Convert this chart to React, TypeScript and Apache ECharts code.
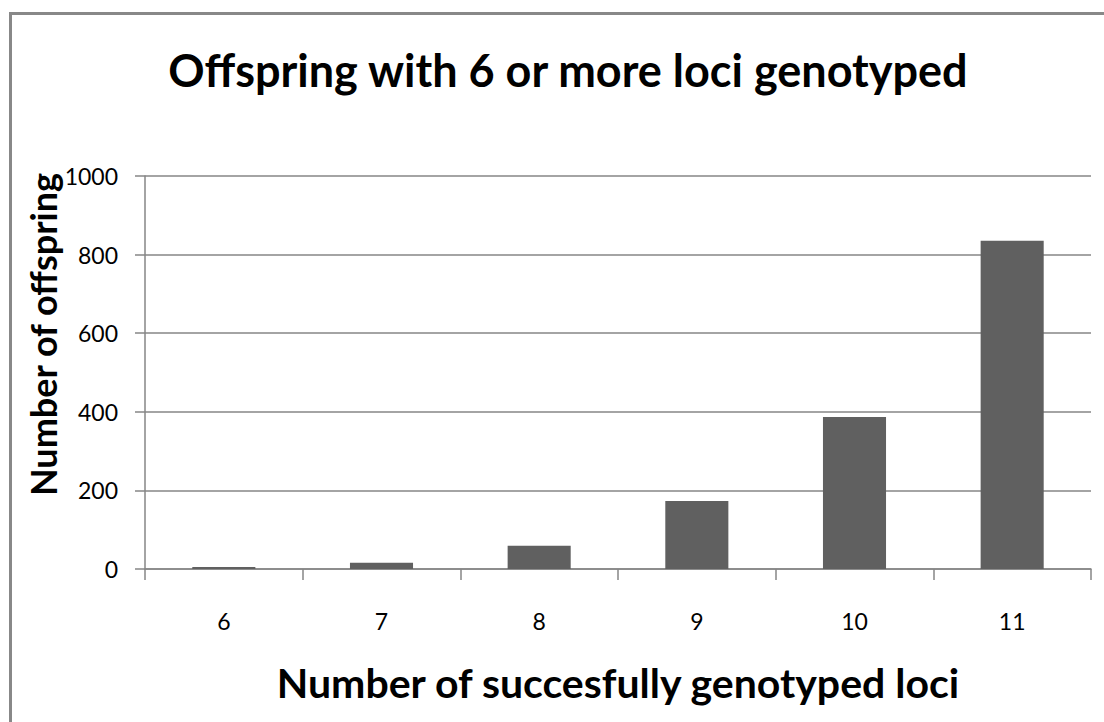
import React, { useEffect, useRef } from "react";
import * as echarts from "echarts";

const categories = ["6", "7", "8", "9", "10", "11"];
const offspringCounts = [5, 16, 59, 173, 387, 835];
const yTicks = { min: 0, max: 1000, interval: 200 };

const FONT = "Lato, 'Open Sans', sans-serif";

export default function App() {
  const ref = useRef<HTMLDivElement>(null);
  useEffect(() => {
    document.body.style.margin = "0";
    const chart = echarts.init(ref.current!, null, { renderer: "svg" });
    chart.setOption({
      animation: false,
      backgroundColor: "#ffffff",
      title: {
        text: "Offspring with 6 or more loci genotyped",
        left: 563,
        top: 42,
        textAlign: "center",
        textStyle: { fontFamily: FONT, fontSize: 45, fontWeight: "bold", color: "#000" },
      },
      graphic: [
        {
          type: "rect",
          shape: { x: 10.5, y: 13.5, width: 1200, height: 800 },
          style: { fill: "none", stroke: "#888888", lineWidth: 3 },
          silent: true,
        },
      ],
      grid: { left: 145, right: 13, top: 176, bottom: 153, containLabel: false },
      xAxis: {
        type: "category",
        data: categories,
        name: "Number of succesfully genotyped loci",
        nameLocation: "middle",
        nameGap: 93,
        nameMoveOverlap: false,
        nameTextStyle: { fontFamily: FONT, fontSize: 41, fontWeight: "bold", color: "#000" },
        axisLine: { lineStyle: { color: "#868686", width: 1.5 } },
        axisTick: { show: true, length: 11, alignWithLabel: false, lineStyle: { color: "#868686", width: 1.5 } },
        axisLabel: { margin: 40, fontFamily: FONT, fontSize: 23, color: "#000" },
      },
      yAxis: {
        type: "value",
        min: yTicks.min,
        max: yTicks.max,
        interval: yTicks.interval,
        name: "Number of offspring",
        nameLocation: "middle",
        nameGap: 84,
        nameRotate: 90,
        nameMoveOverlap: false,
        nameTextStyle: {
          fontFamily: FONT,
          fontSize: 36,
          fontWeight: "bold",
          color: "#000",
          padding: [0, 0, 0, 76],
        },
        axisLine: { show: true, lineStyle: { color: "#868686", width: 1.5 } },
        axisTick: { show: true, length: 10, lineStyle: { color: "#868686", width: 1.5 } },
        axisLabel: {
          margin: 27,
          fontFamily: FONT,
          fontSize: 23,
          color: "#000",
          formatter: (v: number) => String(v),
        },
        splitLine: { lineStyle: { color: "#868686", width: 1.5 } },
      },
      series: [
        {
          type: "bar",
          data: offspringCounts,
          barWidth: "40%",
          itemStyle: { color: "#606060" },
        },
      ],
    });
    return () => chart.dispose();
  }, []);
  return <div ref={ref} style={{ width: 1104, height: 722 }} />;
}
